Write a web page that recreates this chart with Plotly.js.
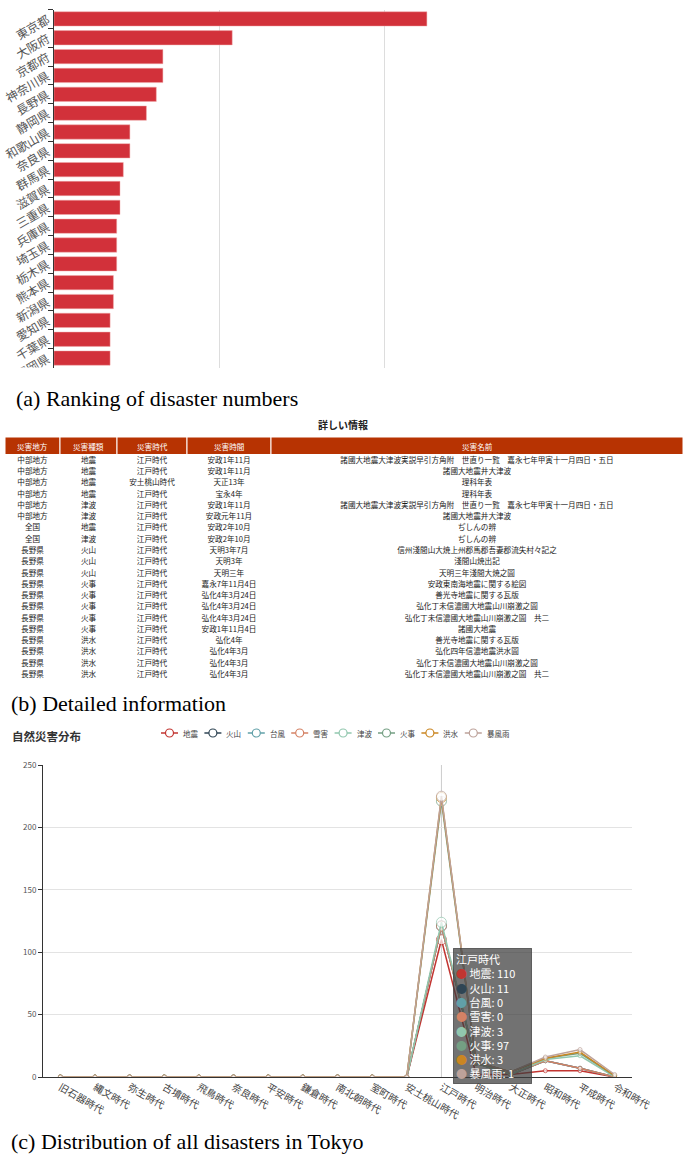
<!DOCTYPE html>
<html>
<head>
<meta charset="utf-8">
<script src="https://cdn.plot.ly/plotly-3.0.1.min.js"></script>
<style>html,body{margin:0;padding:0;background:#fff;}#chart{width:685px;height:1156px;}</style>
</head>
<body>
<div id="chart"></div>
<script>
// ---------- (a) ranking ----------
const prefectures = ['東京都','大阪府','京都府','神奈川県','長野県','静岡県','和歌山県','奈良県','群馬県','滋賀県','三重県','兵庫県','埼玉県','栃木県','熊本県','新潟県','愛知県','千葉県','福岡県'];
const counts = [226,108,66,66,62,56,46,46,42,40,40,38,38,38,36,36,34,34,34];

// ---------- (b) table ----------
const tableHeaders = ['災害地方','災害種類','災害時代','災害時間','災害名前'];
const colRegion = ['中部地方','中部地方','中部地方','中部地方','中部地方','中部地方','全国','全国','長野県','長野県','長野県','長野県','長野県','長野県','長野県','長野県','長野県','長野県','長野県','長野県'];
const colType = ['地震','地震','地震','地震','津波','津波','地震','津波','火山','火山','火山','火事','火事','火事','火事','火事','洪水','洪水','洪水','洪水'];
const colEra = ['江戸時代','江戸時代','安土桃山時代','江戸時代','江戸時代','江戸時代','江戸時代','江戸時代','江戸時代','江戸時代','江戸時代','江戸時代','江戸時代','江戸時代','江戸時代','江戸時代','江戸時代','江戸時代','江戸時代','江戸時代'];
const colTime = ['安政1年11月','安政1年11月','天正13年','宝永4年','安政1年11月','安政元年11月','安政2年10月','安政2年10月','天明3年7月','天明3年','天明三年','嘉永7年11月4日','弘化4年3月24日','弘化4年3月24日','弘化4年3月24日','安政1年11月4日','弘化4年','弘化4年3月','弘化4年3月','弘化4年3月'];
const colName = ['諸國大地震大津波実説早引方角附　世直り一覧　嘉永七年甲寅十一月四日・五日','諸國大地震井大津波','理科年表','理科年表','諸國大地震大津波実説早引方角附　世直り一覧　嘉永七年甲寅十一月四日・五日','諸國大地震井大津波','ぢしんの辨','ぢしんの辨','信州淺間山大焼上州郡馬郡吾妻郡流失村々記之','淺間山焼出記','天明三年淺間大焼之圖','安政東南海地震に関する絵図','善光寺地震に関する瓦版','弘化丁未信濃國大地震山川崩激之圖','弘化丁未信濃國大地震山川崩激之圖　共二','諸國大地震','善光寺地震に関する瓦版','弘化四年信濃地震洪水圖','弘化丁未信濃國大地震山川崩激之圖','弘化丁未信濃國大地震山川崩激之圖　共二'];

// ---------- (c) distribution ----------
const eras = ['旧石器時代','縄文時代','弥生時代','古墳時代','飛鳥時代','奈良時代','平安時代','鎌倉時代','南北朝時代','室町時代','安土桃山時代','江戸時代','明治時代','大正時代','昭和時代','平成時代','令和時代'];
const seriesNames = ['地震','火山','台風','雪害','津波','火事','洪水','暴風雨'];
const quake   = [0,0,0,0,0,0,0,0,0,0,0,110,2,2,5,5,0];
const volcano = [0,0,0,0,0,0,0,0,0,0,0,11,9,0,8,2,0];
const typhoon = [0,0,0,0,0,0,0,0,0,0,0,0,0,0,0,0,0];
const snow    = [0,0,0,0,0,0,0,0,0,0,0,0,0,0,0,0,0];
const tsunami = [0,0,0,0,0,0,0,0,0,0,0,3,0,0,1,10,0];
const fire    = [0,0,0,0,0,0,0,0,0,0,0,97,1,2,1,2,1];
const flood   = [0,0,0,0,0,0,0,0,0,0,0,3,0,0,0,1,0];
const storm   = [0,0,0,0,0,0,0,0,0,0,0,1,0,0,1,2,1];
const hoverEra = '江戸時代';

const seriesData = [quake, volcano, typhoon, snow, tsunami, fire, flood, storm];
const palette = ['#c23531','#2f4554','#61a0a8','#d48265','#91c7ae','#749f83','#ca8622','#bda29a'];

const W = 685, H = 1156;
const px = x => x / W;
const py = y => 1 - y / H;
const JP = '"Noto Sans CJK JP", "Noto Sans", sans-serif';
const SERIF = '"Liberation Serif", "DejaVu Serif", serif';

const traces = [];
const shapes = [];
const annotations = [];

// (a) bars
traces.push({
  type: 'bar', orientation: 'h', x: counts, y: prefectures,
  xaxis: 'x', yaxis: 'y', width: 0.76,
  marker: {color: '#d2313a', line: {color: 'rgba(240,170,170,0.8)', width: 0.6}},
  hoverinfo: 'none', showlegend: false
});

// (b) table drawn as text on its own axes
const colWidths = [55, 57, 70, 84, 412];
const colStarts = colWidths.map((w, i) => colWidths.slice(0, i).reduce((a, b) => a + b, 0));
const colCenters = colWidths.map((w, i) => colStarts[i] + w / 2);
const tableCols = [colRegion, colType, colEra, colTime, colName];
const rowIdx = colRegion.map((r, i) => i);
tableCols.forEach((col, c) => {
  traces.push({
    type: 'scatter', mode: 'text', xaxis: 'x3', yaxis: 'y3',
    x: col.map(() => colCenters[c]), y: rowIdx, text: col,
    textposition: 'middle center', cliponaxis: false,
    textfont: {family: JP, size: 7.6, color: '#1a1a1a'},
    hoverinfo: 'none', showlegend: false
  });
});
tableHeaders.forEach((h, c) => {
  shapes.push({type: 'rect', xref: 'x3', yref: 'paper', x0: colStarts[c], x1: colStarts[c] + colWidths[c],
    y0: py(454.5), y1: py(437), fillcolor: '#b73302', line: {color: 'white', width: 1}, layer: 'below'});
  annotations.push({xref: 'x3', yref: 'paper', x: colCenters[c], y: py(446), xanchor: 'center', yanchor: 'middle',
    text: h, showarrow: false, font: {family: JP, size: 7.6, color: 'white'}});
});

// (c) stacked lines
const hIdx = eras.indexOf(hoverEra);
const markerSizes = eras.map((e, i) => i === hIdx ? 10 : 4);
seriesNames.forEach((n, k) => {
  traces.push({
    type: 'scatter', mode: 'lines+markers', name: n,
    x: eras, y: seriesData[k], xaxis: 'x2', yaxis: 'y2',
    stackgroup: 'one', fill: 'none',
    line: {color: palette[k], width: 1.5},
    marker: {size: markerSizes, color: 'white', line: {color: palette[k], width: 1}},
    hoverinfo: 'none', showlegend: false
  });
});

// white mask clipping the cropped last label of (a)
shapes.push({type: 'rect', xref: 'paper', yref: 'paper', x0: 0, x1: px(52), y0: py(386), y1: py(367.5),
  fillcolor: 'white', line: {width: 0}, layer: 'above'});

// axis pointer
shapes.push({type: 'line', xref: 'x2', yref: 'y2', x0: hIdx, x1: hIdx, y0: 0, y1: 250,
  line: {color: '#cccccc', width: 1}, layer: 'below'});

// custom legend for (c)
seriesNames.forEach((n, k) => {
  const x0 = 161 + k * 43.4, yc = 733;
  shapes.push({type: 'line', xref: 'paper', yref: 'paper', x0: px(x0), x1: px(x0 + 17), y0: py(yc), y1: py(yc),
    line: {color: palette[k], width: 1.5}});
  shapes.push({type: 'circle', xref: 'paper', yref: 'paper', x0: px(x0 + 4.5), x1: px(x0 + 12.5), y0: py(yc + 4), y1: py(yc - 4),
    fillcolor: 'white', line: {color: palette[k], width: 1.2}});
  annotations.push({xref: 'paper', yref: 'paper', x: px(x0 + 20), y: py(yc), xanchor: 'left', yanchor: 'middle',
    text: n, showarrow: false, font: {family: JP, size: 7.5, color: '#444'}});
});

// tooltip
const tipLines = [hoverEra].concat(seriesNames.map((n, k) =>
  `<span style="color:${palette[k]}">●</span> ${n}: ${seriesData[k][hIdx]}`));
annotations.push({xref: 'paper', yref: 'paper', x: px(453), y: py(948), xanchor: 'left', yanchor: 'top',
  text: tipLines.join('<br>'), align: 'left', showarrow: false, width: 73,
  font: {family: JP, size: 11, color: 'white'},
  bgcolor: 'rgba(60,60,60,0.72)', bordercolor: 'rgba(60,60,60,0.72)', borderwidth: 1, borderpad: 2});

// titles
annotations.push({xref: 'paper', yref: 'paper', x: px(343), y: py(424), xanchor: 'center', yanchor: 'middle',
  text: '<b>詳しい情報</b>', showarrow: false, font: {family: JP, size: 10, color: '#222'}});
annotations.push({xref: 'paper', yref: 'paper', x: px(10), y: py(736), xanchor: 'left', yanchor: 'middle',
  text: '<b>自然災害分布</b>', showarrow: false, font: {family: JP, size: 11.5, color: '#333'}});

// captions
[['(a) Ranking of disaster numbers', 14, 398], ['(b) Detailed information', 9, 703], ['(c) Distribution of all disasters in Tokyo', 9, 1141]]
  .forEach(([t, x, y]) => annotations.push({xref: 'paper', yref: 'paper', x: px(x), y: py(y), xanchor: 'left', yanchor: 'middle',
    text: t, showarrow: false, font: {family: SERIF, size: 22, color: '#000'}}));

const hidden = {showgrid: false, zeroline: false, showticklabels: false, showline: false, ticks: ''};
const layout = {
  width: W, height: H, margin: {l: 0, r: 0, t: 0, b: 0},
  paper_bgcolor: 'white', plot_bgcolor: 'rgba(0,0,0,0)', showlegend: false,
  font: {family: JP},
  xaxis: {domain: [px(54), px(450)], anchor: 'y', range: [0, 240], tick0: 0, dtick: 100,
    showgrid: true, gridcolor: '#dddddd', gridwidth: 1, showticklabels: false, zeroline: false, showline: false, ticks: ''},
  yaxis: {domain: [py(367.5), py(9.5)], anchor: 'x', type: 'category', range: [18.5, -0.5],
    tickson: 'boundaries', ticks: 'outside', ticklen: 5, tickcolor: '#333', showline: true, linecolor: '#333', linewidth: 1,
    showgrid: false, zeroline: false, tickangle: -30, ticklabelstandoff: 3, tickfont: {family: JP, size: 12, color: '#555'}},
  xaxis2: {domain: [px(43), px(632)], anchor: 'y2', type: 'category', range: [-0.5, 16.5],
    showline: true, linecolor: '#333', linewidth: 1, ticks: '', showgrid: false, zeroline: false,
    tickangle: 30, tickfont: {family: JP, size: 10, color: '#444'}},
  yaxis2: {domain: [py(1077), py(765)], anchor: 'x2', range: [0, 250], tick0: 0, dtick: 50,
    showline: true, linecolor: '#333', linewidth: 1, ticks: 'outside', ticklen: 4, tickcolor: '#333',
    showgrid: true, gridcolor: '#e3e3e3', zeroline: false, tickfont: {family: JP, size: 8, color: '#555'}},
  xaxis3: Object.assign({domain: [px(5), px(683)], anchor: 'y3', range: [0, 678]}, hidden),
  yaxis3: Object.assign({domain: [py(455.4 + 20 * 11.26), py(455.4)], anchor: 'x3', range: [19.5, -0.5]}, hidden),
  shapes: shapes, annotations: annotations
};

Plotly.newPlot('chart', traces, layout, {staticPlot: true, displayModeBar: false});
</script>
</body>
</html>
